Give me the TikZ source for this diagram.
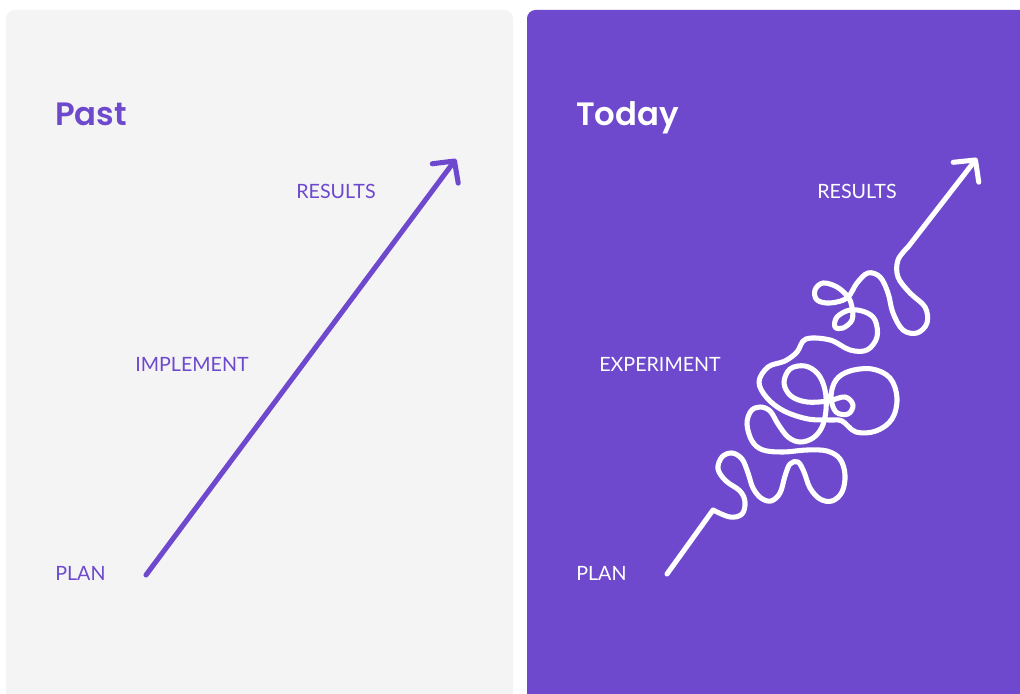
\documentclass[tikz,border=0pt]{standalone}
\usepackage{fontspec}
\setmainfont{Lato}
\newfontfamily\headfont{Poppins SemiBold}
\usetikzlibrary{arrows.meta}
\definecolor{brandpurple}{HTML}{6E49CD}
\definecolor{panelgray}{HTML}{F4F4F4}
\tikzset{
  heading/.style={anchor=base west,inner sep=0pt,font=\headfont\fontsize{23}{28}\selectfont},
  stage/.style={anchor=base west,inner sep=0pt,font=\fontsize{14}{17}\selectfont},
  trail/.style={line width=3.6pt,line cap=round,line join=round,
    -{Straight Barb[length=11pt,width=23pt,round]}}
}
\begin{document}
\begin{tikzpicture}[x=0.025cm,y=-0.025cm]
  \useasboundingbox (0,0) rectangle (1020,694);
  \clip (0,0) rectangle (1020,694);
  \fill[panelgray,rounded corners=6pt] (6,10) rectangle (513,730);
  \fill[brandpurple,rounded corners=6pt] (527,10) rectangle (1050,730);

  % past: straight line
  \node[heading,text=brandpurple] (past) at (55,126) {Past};
  \node[stage,text=brandpurple] (results1) at (296,199) {RESULTS};
  \node[stage,text=brandpurple] (implement) at (135,372) {IMPLEMENT};
  \node[stage,text=brandpurple] (plan1) at (55,580) {PLAN};
  \coordinate (a0) at (146,575);
  \coordinate (a1) at (456,159);
  \draw[trail,brandpurple] (a0) -- (a1);

  % today: tangled line
  \node[heading,text=white] (today) at (576,126) {Today};
  \node[stage,text=white] (results2) at (817,199) {RESULTS};
  \node[stage,text=white] (experiment) at (599,372) {EXPERIMENT};
  \node[stage,text=white] (plan2) at (576,580) {PLAN};
  \coordinate (b0) at (667,574);
  \coordinate (b1) at (713,510);
  \coordinate (b2) at (908,247);
  \coordinate (b3) at (977,158);
  \draw[trail,white] (b0) -- plot[smooth,tension=0.6] coordinates {
      (b1) (730,517) (742,514) (745,502) (740,491) (726,481) (718,469) (722,457)
      (732,453) (742,459) (748,473) (753,488) (761,498) (771,501) (780,493)
      (785,476) (790,464) (798,462) (804,472) (810,488) (820,499) (832,501)
      (842,492) (845,475) (840,459) (827,451) (807,450) (783,452) (763,450)
      (752,441) (747,424) (751,411) (760,407) (770,411) (778,424) (788,437)
      (800,442) (813,438) (822,427) (826,410) (825,390) (818,374) (805,366)
      (790,369) (784,383) (791,396) (807,402) (828,401) (845,397) (853,405)
      (848,414) (836,412) (831,397) (836,380) (850,371) (872,369) (890,378)
      (897,398) (892,419) (876,431) (856,432) (842,421) (830,420) (808,419)
      (784,411) (767,398) (759,382) (768,367) (785,361) (797,352) (806,339)
      (830,340) (850,350) (867,350) (877,337) (875,320) (865,312) (850,310)
      (837,317) (835,327) (843,328) (852,320) (852,307) (848,297) (837,287)
      (823,283) (815,290) (817,300) (830,303) (847,298) (857,283) (868,273)
      (880,277) (888,293) (893,313) (903,330) (917,333) (927,323) (925,307)
      (910,293) (898,277) (898,260) (b2)} -- (b3);
\end{tikzpicture}
\end{document}
